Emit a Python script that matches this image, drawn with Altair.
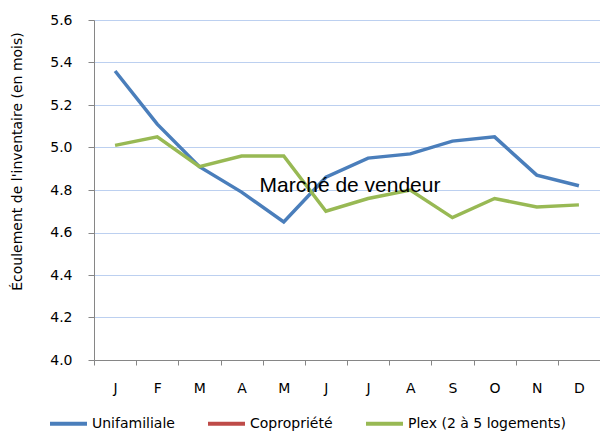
import altair as alt
import pandas as pd

mois = ["janvier", "février", "mars", "avril", "mai", "juin", "juillet",
        "août", "septembre", "octobre", "novembre", "décembre"]
unifamiliale = [5.36, 5.11, 4.91, 4.79, 4.65, 4.86, 4.95, 4.97, 5.03, 5.05, 4.87, 4.82]
plex = [5.01, 5.05, 4.91, 4.96, 4.96, 4.70, 4.76, 4.80, 4.67, 4.76, 4.72, 4.73]
series = ["Unifamiliale", "Copropriété", "Plex (2 à 5 logements)"]
colors = ["#4A7EBB", "#BE4B48", "#98B954"]
y_ticks = [4.0, 4.2, 4.4, 4.6, 4.8, 5.0, 5.2, 5.4, 5.6]
annotation = "Marché de vendeur"

rows = []
for m, v in zip(mois, unifamiliale):
    rows.append({"mois": m, "serie": series[0], "valeur": v})
for m, v in zip(mois, plex):
    rows.append({"mois": m, "serie": series[2], "valeur": v})
df = pd.DataFrame(rows)

FONT = "DejaVu Sans"

x_enc = alt.X(
    "mois:N",
    sort=mois,
    scale=alt.Scale(type="band", paddingInner=0, paddingOuter=0),
    axis=alt.Axis(
        title=None,
        labelExpr="upper(substring(datum.label, 0, 1))",
        labelAngle=0,
        tickBand="extent",
        tickSize=5,
        tickColor="#868686",
        domainColor="#868686",
        labelPadding=16,
        labelFont=FONT,
        labelFontSize=14,
        labelColor="#000000",
        grid=False,
    ),
)

y_enc = alt.Y(
    "valeur:Q",
    scale=alt.Scale(domain=[4.0, 5.6], nice=False, zero=False),
    axis=alt.Axis(
        title="Écoulement de l'inventaire (en mois)",
        values=y_ticks,
        format=".1f",
        tickSize=6,
        tickColor="#868686",
        domainColor="#868686",
        gridColor="#BCD0F0",
        gridWidth=1,
        labelPadding=16,
        labelFont=FONT,
        labelFontSize=14,
        labelColor="#000000",
        titleFont=FONT,
        titleFontSize=14,
        titleFontWeight="normal",
        titleColor="#000000",
        titleX=-77,
        titleY=141,
        titleAlign="center",
        titleBaseline="middle",
        titleAngle=-90,
    ),
)

lines = alt.Chart(df).mark_line(strokeWidth=3.5).encode(
    x=x_enc,
    y=y_enc,
    color=alt.Color(
        "serie:N",
        scale=alt.Scale(domain=series, range=colors),
        legend=alt.Legend(
            title=None,
            orient="none",
            direction="horizontal",
            legendX=-46,
            legendY=383,
            symbolType="stroke",
            symbolSize=1369,
            symbolStrokeWidth=4,
            labelOffset=3,
            columnPadding=25,
            labelFont=FONT,
            labelFontSize=14,
            labelColor="#000000",
        ),
    ),
)

text = alt.Chart(pd.DataFrame({"t": [annotation]})).mark_text(
    font="Liberation Sans", fontSize=21, color="#000000",
    align="center", baseline="alphabetic",
).encode(text="t:N", x=alt.value(256), y=alt.value(172))

chart = alt.layer(lines, text).properties(
    width=506, height=340,
    autosize=alt.AutoSizeParams(type="none"),
    padding={"left": 86, "top": 12, "right": 0, "bottom": 74},
).configure_view(stroke=None).configure(background="white")

chart.save("out.html", embed_options={"renderer": "svg", "actions": False})
